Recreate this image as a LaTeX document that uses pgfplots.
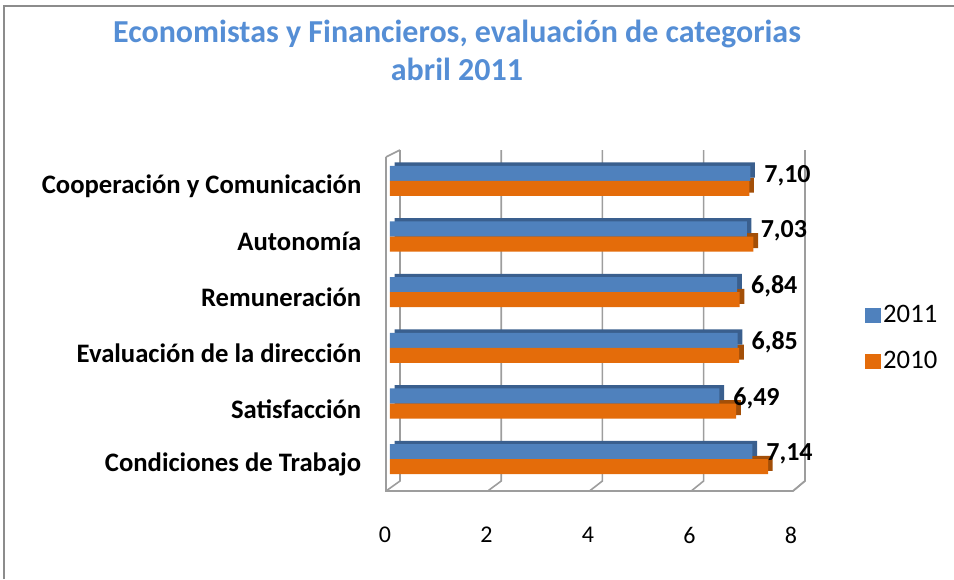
\documentclass[border=0pt]{standalone}
\usepackage{pgfplots}
\pgfplotsset{compat=1.18}
\usepackage{fontspec}
\setmainfont{Carlito}
\definecolor{bblue}{HTML}{4F81BD}
\definecolor{bblueD}{HTML}{3A5F8E}
\definecolor{oorg}{HTML}{E46C0A}
\definecolor{oorgD}{HTML}{A34F08}
\definecolor{ttl}{HTML}{558ED5}
\definecolor{wall}{HTML}{8C8C8C}

\pgfplotstableread{
y v2011 v2010
1 7.10 7.08
2 7.03 7.16
3 6.84 6.89
4 6.85 6.88
5 6.49 6.82
6 7.14 7.45
}\datatable

\begin{document}
\begin{tikzpicture}[x=0.75pt,y=-0.75pt]
\path[use as bounding box] (0,0) rectangle (954,579);
\draw[wall, line width=2pt] (4,579) -- (4,6) -- (954,6);
\node[font=\fontsize{24}{26}\selectfont\bfseries, text=ttl, anchor=base] at (457,42) {Economistas y Financieros, evaluación de categorias};
\node[font=\fontsize{24}{26}\selectfont\bfseries, text=ttl, anchor=base] at (457,80) {abril 2011};
\begin{scope}[wall!85, line width=1.2pt]
 \foreach \k in {0,...,4} { \draw ({400+\k*101.2},150) -- ({400+\k*101.2},481) -- ({386+\k*101.75},491); }
 \draw (386,157) -- (400,150);
 \draw (386,157) -- (386,491) -- (793,491) -- (805,481) -- (805,150);
\end{scope}
\begin{axis}[
  at={(292.5pt,-365.25pt)}, anchor=south west,
  scale only axis, width=304.5pt, height=250.5pt,
  xmin=0, xmax=8, ymin=0.5, ymax=6.5, y dir=reverse,
  xbar, bar width=0.27,
  axis line style={draw=none}, major tick length=0pt,
  xtick={0,2,4,6,8},
  ytick={1,...,6},
  yticklabels={Cooperación y Comunicación, Autonomía, Remuneración, Evaluación de la dirección, Satisfacción, Condiciones de Trabajo},
  yticklabel style={font=\fontsize{20}{22}\selectfont\bfseries, anchor=east, xshift=-18pt, yshift=-4pt},
  xticklabel style={font=\fontsize{18}{20}\selectfont, anchor=center, yshift=-36pt, xshift=-3.75pt},
  /pgf/number format/assume math mode=true,
  legend style={at={(1.16,0.56)}, anchor=north west, draw=none, fill=none,
    font=\fontsize{20}{22}\selectfont, row sep=16pt,
    /tikz/every even column/.append style={column sep=4pt}},
  legend image code/.code={\fill[#1] (0pt,-5.6pt) rectangle (11.5pt,5.6pt);},
]
\addplot[draw=none, fill=oorgD, bar shift=0.135, xshift=3.5pt, yshift=2.5pt, forget plot] table[x=v2010, y=y] {\datatable};
\addplot[draw=none, fill=bblueD, bar shift=-0.135, xshift=3.5pt, yshift=2.5pt, forget plot] table[x=v2011, y=y] {\datatable};
\addplot[draw=none, fill=bblue, bar shift=-0.135,
  nodes near coords, nodes near coords align={horizontal},
  every node near coord/.append style={font=\fontsize{19.5}{21}\selectfont\bfseries, text=black, anchor=west, xshift=7pt, yshift=-1.5pt},
  /pgf/number format/.cd, fixed, fixed zerofill, precision=2, use comma] table[x=v2011, y=y] {\datatable};
\addlegendentry{2011}
\addplot[draw=none, fill=oorg, bar shift=0.135] table[x=v2010, y=y] {\datatable};
\addlegendentry{2010}
\end{axis}
\end{tikzpicture}
\end{document}
